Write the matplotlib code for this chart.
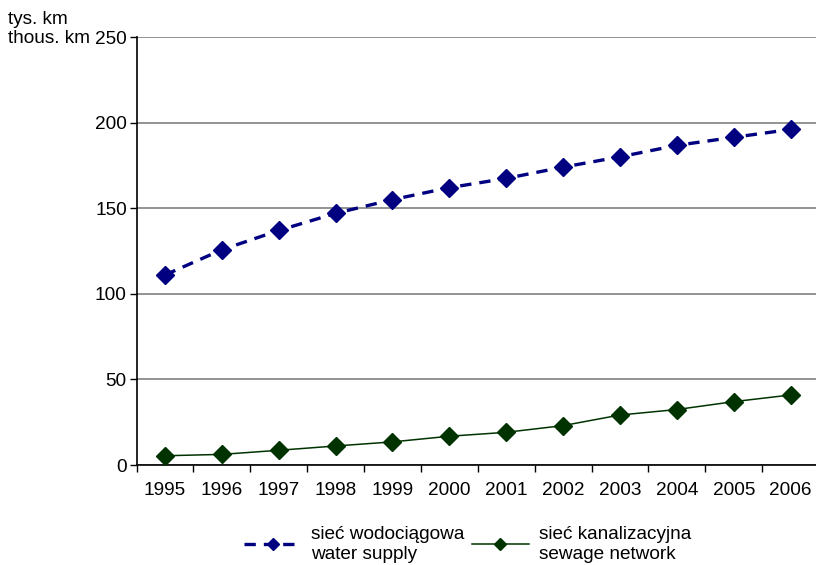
import matplotlib
matplotlib.use("Agg")
import matplotlib.pyplot as plt

plt.rcParams['font.family'] = ['Liberation Sans', 'DejaVu Sans']

years = ['1995', '1996', '1997', '1998', '1999', '2000', '2001', '2002', '2003', '2004', '2005', '2006']
water_supply = [111, 125.7, 137, 147, 155, 162, 167.4, 174, 180, 186.7, 191.4, 196]
sewage_network = [5.4, 6.2, 8.6, 11.1, 13.5, 16.8, 19.1, 23, 29.2, 32.4, 37, 40.9]
yticks = [0, 50, 100, 150, 200, 250]
label_water = 'sieć wodociągowa\nwater supply'
label_sewage = 'sieć kanalizacyjna\nsewage network'
unit_label = 'tys. km\nthous. km'

FS = 13.7
W, H = 816, 565
fig = plt.figure(figsize=(W / 100, H / 100), dpi=100)
ax = fig.add_axes([136.5 / W, (H - 465) / H, 682.5 / W, 428 / H])

x = list(range(len(years)))
ax.plot(x, water_supply, color='#000080', lw=2.4, ls=(0, (3.4, 2.4)), marker='D',
        ms=9.5, mfc='#000080', mec='#000080', label=label_water, zorder=3)
ax.plot(x, sewage_network, color='#003300', lw=1.1, marker='D',
        ms=9.5, mfc='#003300', mec='#003300', label=label_sewage, zorder=3)

ax.set_xlim(-0.5, len(years) - 0.5)
ax.set_ylim(0, 250)
ax.set_yticks(yticks)
ax.set_yticklabels([str(v) for v in yticks], fontsize=FS)
ax.set_xticks([i - 0.5 for i in range(len(years) + 1)])
ax.set_xticklabels([])
ax.set_xticks(x, minor=True)
ax.set_xticklabels(years, minor=True, fontsize=FS)
ax.tick_params(axis='x', which='minor', length=0, pad=12)
ax.tick_params(axis='x', which='major', length=5, width=1, direction='out')
ax.tick_params(axis='y', length=5, width=1, direction='out', pad=2)
ax.grid(axis='y', color='#808080', lw=1.2)
ax.set_axisbelow(True)
for s in ['top', 'right']:
    ax.spines[s].set_visible(False)
for s in ['left', 'bottom']:
    ax.spines[s].set_color('black')
    ax.spines[s].set_linewidth(1.2)

fig.text(8 / W, 1 - 29 / H, unit_label, fontsize=FS, ha='left', va='center', linespacing=1.15)

leg = fig.legend(loc='lower center', bbox_to_anchor=(0.573, -0.026), ncol=2, frameon=False,
                 fontsize=FS, handlelength=3.0, columnspacing=0.4, handletextpad=0.5,
                 labelspacing=0.2, markerscale=0.6)
for t in leg.get_texts():
    t.set_linespacing(1.2)

fig.savefig('out.png', dpi=100)
